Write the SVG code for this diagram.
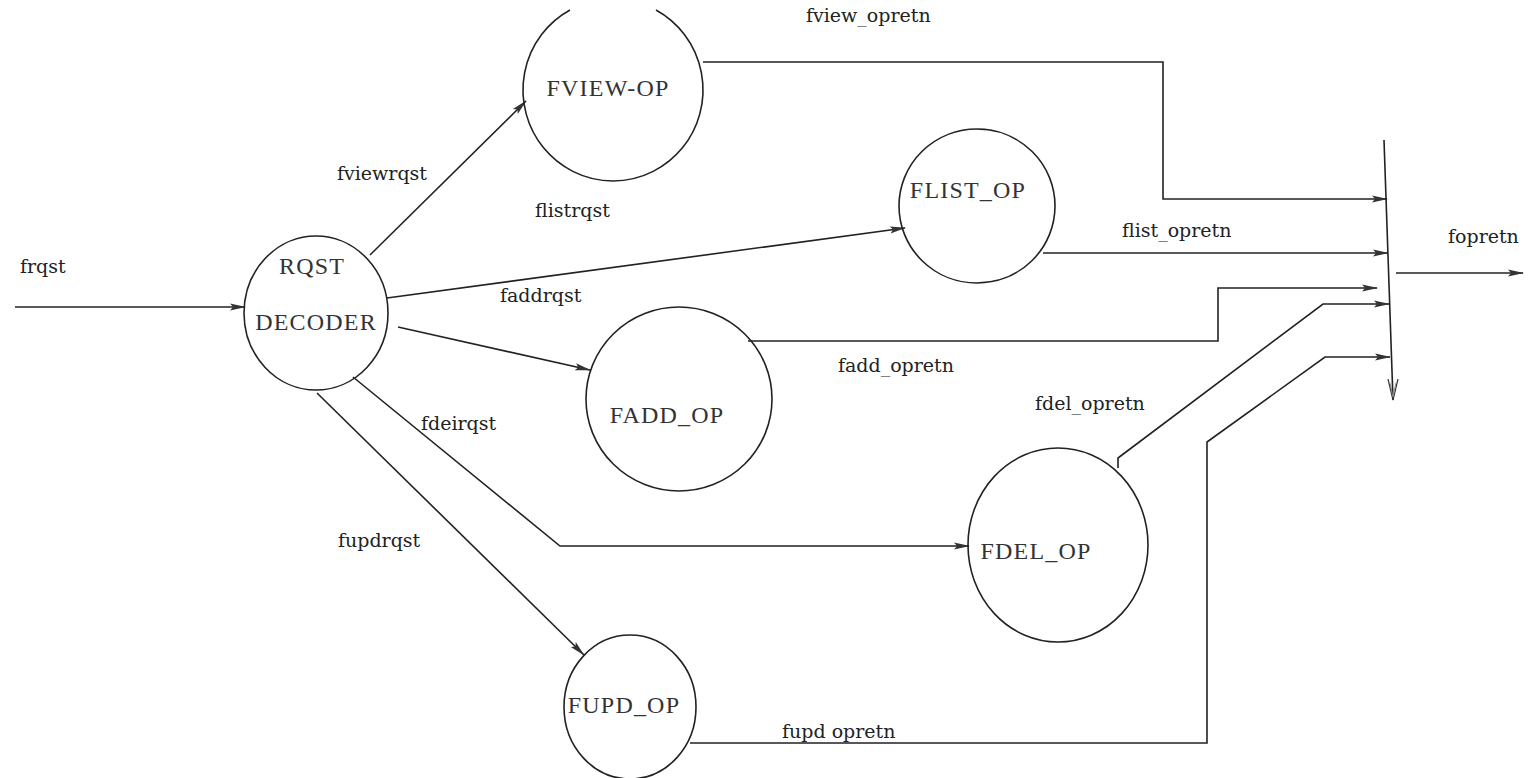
<svg xmlns="http://www.w3.org/2000/svg" width="1533" height="778" viewBox="0 0 1533 778">
<style>
.node{fill:none;stroke:#222;stroke-width:1.6}
.ntxt{font-family:"Liberation Serif",serif;font-size:24px;letter-spacing:1.2px;fill:#333}
.lbl{font-family:"DejaVu Serif","Liberation Serif",serif;font-size:19px;fill:#222}
.c{fill:none;stroke:#222;stroke-width:1.6}
</style>
<defs>
<marker id="ah" markerWidth="16" markerHeight="10" refX="15" refY="5" orient="auto" markerUnits="userSpaceOnUse">
<path d="M0,1.5 L16,5 L0,8.5 L3,5 Z" fill="#333"/>
</marker>
<marker id="ahh" markerWidth="12" markerHeight="22" refX="6" refY="21" orient="0" markerUnits="userSpaceOnUse">
<path d="M1,0 L6,21 L11,0" fill="none" stroke="#333" stroke-width="1.2"/>
<path d="M3,4 L6,18 L9,4" fill="none" stroke="#888" stroke-width="1"/>
</marker>
</defs>
<g id="connectors">
<path class="c" d="M15,307 L245,307" marker-end="url(#ah)"/>
<text class="lbl" x="20" y="273">frqst</text>
<path class="c" d="M370,255 L526,101" marker-end="url(#ah)"/>
<text class="lbl" x="337" y="180">fviewrqst</text>
<path class="c" d="M387,298 L905,228" marker-end="url(#ah)"/>
<text class="lbl" x="535" y="217">flistrqst</text>
<path class="c" d="M398,327 L590,370" marker-end="url(#ah)"/>
<text class="lbl" x="500" y="302">faddrqst</text>
<path class="c" d="M353,377 L560,546 L969,546" marker-end="url(#ah)"/>
<text class="lbl" x="421" y="430">fdeirqst</text>
<path class="c" d="M317,393 L584,655" marker-end="url(#ah)"/>
<text class="lbl" x="338" y="547">fupdrqst</text>
<path class="c" d="M703,62 L1163,62 L1163,199 L1387,199" marker-end="url(#ah)"/>
<text class="lbl" x="806" y="22">fview_opretn</text>
<path class="c" d="M1043,253 L1388,253" marker-end="url(#ah)"/>
<text class="lbl" x="1122" y="237">flist_opretn</text>
<path class="c" d="M748,341 L1218,341 L1218,288 L1377,288" marker-end="url(#ah)"/>
<text class="lbl" x="838" y="372">fadd_opretn</text>
<path class="c" d="M1118,468 L1118,458 L1323,304 L1389,304" marker-end="url(#ah)"/>
<text class="lbl" x="1035" y="410">fdel_opretn</text>
<path class="c" d="M690,743 L1207,743 L1207,442 L1325,357 L1390,357" marker-end="url(#ah)"/>
<text class="lbl" x="782" y="738">fupd opretn</text>
<path class="c" d="M1384,140 L1393,400" marker-end="url(#ahh)"/>
<path class="c" d="M1396,273 L1523,273" marker-end="url(#ah)"/>
<text class="lbl" x="1448" y="243">fopretn</text>
</g>
<g id="rqst_decoder">
<ellipse class="node" cx="316" cy="313" rx="72" ry="77"/>
<text class="ntxt" x="312" y="274" text-anchor="middle">RQST</text>
<text class="ntxt" x="316" y="330" text-anchor="middle">DECODER</text>
</g>
<g id="fview_op">
<path class="node" d="M570,10 A90,91 0 1,0 656,10"/>
<text class="ntxt" x="608" y="96" text-anchor="middle">FVIEW-OP</text>
</g>
<g id="flist_op">
<ellipse class="node" cx="977" cy="206" rx="78" ry="77"/>
<text class="ntxt" x="968" y="198" text-anchor="middle">FLIST_OP</text>
</g>
<g id="fadd_op">
<ellipse class="node" cx="679" cy="399" rx="93" ry="92"/>
<text class="ntxt" x="667" y="423" text-anchor="middle">FADD_OP</text>
</g>
<g id="fdel_op">
<ellipse class="node" cx="1058" cy="545" rx="90" ry="97"/>
<text class="ntxt" x="1036" y="559" text-anchor="middle">FDEL_OP</text>
</g>
<g id="fupd_op">
<ellipse class="node" cx="630" cy="707" rx="66" ry="72"/>
<text class="ntxt" x="624" y="713" text-anchor="middle">FUPD_OP</text>
</g>
</svg>
